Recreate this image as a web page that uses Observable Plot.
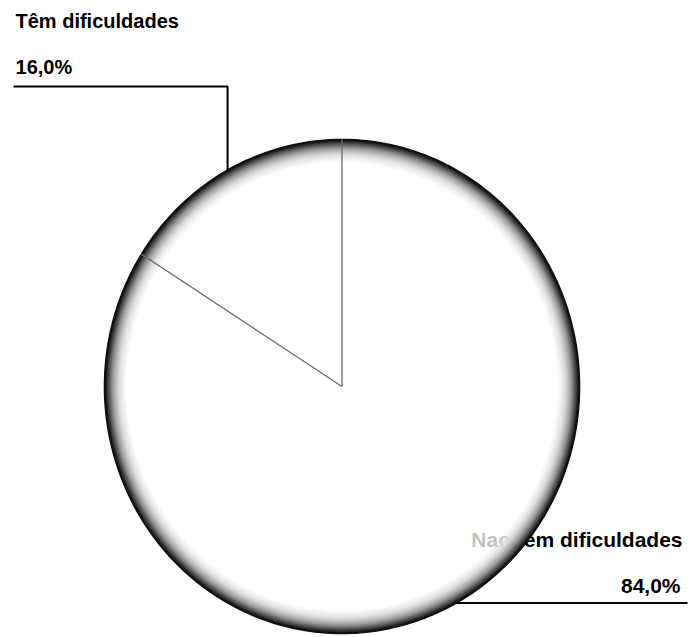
<!DOCTYPE html>
<html>
<head>
<meta charset="utf-8">
<script src="https://cdn.jsdelivr.net/npm/d3@7"></script>
<script src="https://cdn.jsdelivr.net/npm/@observablehq/plot@0.6"></script>
<style>
  body { margin: 0; background: #fff; }
  svg { display: block; }
</style>
</head>
<body>
<div id="chart"></div>
<script>
// Respondents with / without difficulties (percent)
const categories = ["Têm dificuldades", "Nao têm dificuldades"];
const shares = [16.0, 84.0];

// Label placement in pie units (radius = 1), one entry per category
const labelAnchor = ["start", "end"];
const nameX = [-1.3747, 1.4337];
const nameY = [1.4534, -0.6518];
const valueX = [-1.3747, 1.4253];
const valueY = [1.2632, -0.838];
const leaderEndX = [-1.3832, 1.4547];
const leaderElbowY = [1.2146, null];

const fmt = v => v.toFixed(1).replace(".", ",") + "%";

// Slices run counter-clockwise from 12 o'clock
const total = d3.sum(shares);
let acc = 0;
const slices = categories.map((name, i) => {
  const a0 = acc / total * 2 * Math.PI;
  acc += shares[i];
  const a1 = acc / total * 2 * Math.PI;
  return {name, value: shares[i], a0, a1, mid: (a0 + a1) / 2, i};
});
const ux = a => -Math.sin(a);
const uy = a => Math.cos(a);

// Outline of the whole pie, sampled along each slice's arc
const outline = [];
for (const s of slices) {
  const n = Math.max(2, Math.ceil((s.a1 - s.a0) / (Math.PI / 180)));
  for (let k = 0; k < n; k++) {
    const a = s.a0 + (s.a1 - s.a0) * k / n;
    outline.push({x: ux(a), y: uy(a)});
  }
}

// Slice boundaries
const spokes = slices.map(s => ({x1: 0, y1: 0, x2: ux(s.a0), y2: uy(s.a0)}));

// Leader lines from each slice's mid-arc to its label
const leaders = [];
for (const s of slices) {
  const ex = ux(s.mid), ey = uy(s.mid);
  leaders.push({name: s.name, x: ex, y: ey});
  if (leaderElbowY[s.i] != null) {
    leaders.push({name: s.name, x: ex, y: leaderElbowY[s.i]});
    leaders.push({name: s.name, x: leaderEndX[s.i], y: leaderElbowY[s.i]});
  } else {
    leaders.push({name: s.name, x: leaderEndX[s.i], y: ey});
  }
}

// Label texts
const labels = slices.flatMap(s => [
  {anchor: labelAnchor[s.i], x: nameX[s.i], y: nameY[s.i], text: s.name},
  {anchor: labelAnchor[s.i], x: valueX[s.i], y: valueY[s.i], text: fmt(s.value)}
]);

const textStyle = {x: "x", y: "y", text: "text", fontWeight: "bold", lineAnchor: "bottom", fill: "#000"};

const chart = Plot.plot({
  width: 691,
  height: 637,
  margin: 0,
  x: {domain: [-1, 1], range: [104, 579], axis: null},
  y: {domain: [-1, 1], range: [633, 139], axis: null},
  style: {background: "#fff", fontFamily: "'Liberation Sans', Arial, sans-serif"},
  marks: [
    Plot.text(labels.filter(d => d.anchor === "start"), {...textStyle, fontSize: 20, textAnchor: "start"}),
    Plot.text(labels.filter(d => d.anchor === "end"), {...textStyle, fontSize: 21, textAnchor: "end"}),
    Plot.line(outline, {x: "x", y: "y", curve: "linear-closed", fill: "url(#pieShade)", stroke: "#111", strokeWidth: 1.6}),
    Plot.link(spokes, {x1: "x1", y1: "y1", x2: "x2", y2: "y2", stroke: "#6a6a6a", strokeWidth: 1.3}),
    Plot.line(leaders, {x: "x", y: "y", z: "name", stroke: "#000", strokeWidth: 2, strokeLinecap: "butt", strokeLinejoin: "miter"})
  ]
});

// Shaded rim of the pie
const defs = d3.select(chart).insert("defs", ":first-child");
const grad = defs.append("radialGradient")
  .attr("id", "pieShade")
  .attr("cx", 0.5).attr("cy", 0.5).attr("r", 0.5);
[
  [0, "#ffffff", 0.74],
  [0.905, "#ffffff", 0.76],
  [0.94, "#dadada", 1],
  [0.965, "#9a9a9a", 1],
  [0.985, "#444444", 1],
  [1, "#000000", 1]
].forEach(([o, c, op]) => grad.append("stop").attr("offset", o).attr("stop-color", c).attr("stop-opacity", op));

document.getElementById("chart").append(chart);
</script>
</body>
</html>
